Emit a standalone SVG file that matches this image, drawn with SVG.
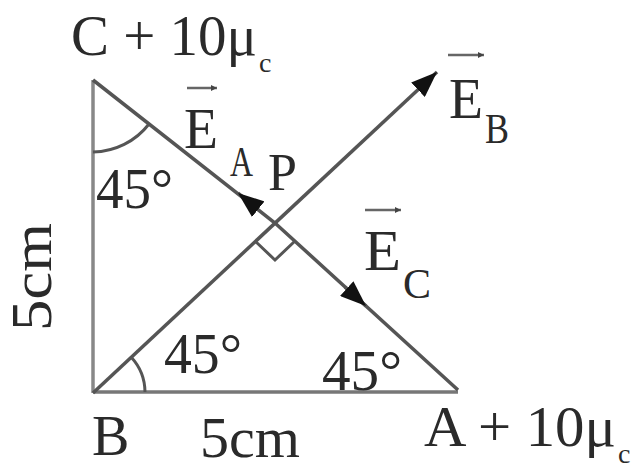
<svg xmlns="http://www.w3.org/2000/svg" width="634" height="470" viewBox="0 0 634 470">
<style>
.t{font-family:"Liberation Serif","Times New Roman",serif;fill:#2a2a2a}
.big{font-size:56px}
.sub{font-size:42px}
.ln{stroke:#555;stroke-width:3.5;fill:none}
.thin{stroke:#555;stroke-width:3;fill:none}
.vb{stroke:#666;stroke-width:2.5;fill:none}
</style>
<defs>
<marker id="ah" viewBox="0 0 10 10" refX="10" refY="5" markerWidth="6" markerHeight="6" markerUnits="userSpaceOnUse" orient="auto">
<path d="M0,0 L10,5 L0,10 z" fill="#444"/>
</marker>
<marker id="big" viewBox="0 0 10 10" refX="10" refY="5" markerWidth="26" markerHeight="20" markerUnits="userSpaceOnUse" orient="auto" preserveAspectRatio="none">
<path d="M0,0 L10,5 L0,10 z" fill="#111"/>
</marker>
</defs>
<rect width="634" height="470" fill="#fff"/>
<g id="connectors">
<line class="ln" x1="93" y1="80" x2="93" y2="393" style="stroke:#888"/>
<line class="ln" x1="93" y1="392" x2="458" y2="392" style="stroke:#777"/>
<polyline class="ln" points="93,80 275,223 458,390"/>
<line class="ln" x1="93" y1="393" x2="437" y2="72" marker-end="url(#big)"/>
<line class="ln" x1="258" y1="209" x2="238" y2="193" marker-end="url(#big)"/>
<line class="ln" x1="345" y1="287" x2="366" y2="306" marker-end="url(#big)"/>
<path class="thin" d="M93,152 A72,72 0 0 0 149,124"/>
<path class="thin" d="M145,392 A52,52 0 0 0 131,357"/>
<polyline class="thin" points="255,241 275,260 295,241"/>
</g>
<g id="node-C"><text class="t big" x="71" y="55" textLength="186" lengthAdjust="spacingAndGlyphs">C + 10μ</text><text class="t" x="259" y="72" style="font-size:28px">c</text></g>
<g id="node-A"><text class="t big" x="424" y="446" textLength="192" lengthAdjust="spacingAndGlyphs">A + 10μ</text><text class="t" x="618" y="463" style="font-size:28px">c</text></g>
<g id="node-B"><text class="t big" x="92" y="455">B</text></g>
<g id="node-P"><text class="t big" x="268" y="190" style="font-size:52px">P</text></g>
<g id="label-5cm-bottom"><text class="t big" x="200" y="457" textLength="100" lengthAdjust="spacingAndGlyphs">5cm</text></g>
<g id="label-5cm-left"><text class="t big" transform="translate(51,331) rotate(-90)" textLength="108" lengthAdjust="spacingAndGlyphs">5cm</text></g>
<g id="angle-C"><text class="t big" x="96" y="208" textLength="77" lengthAdjust="spacingAndGlyphs">45°</text></g>
<g id="angle-B"><text class="t big" x="164" y="373" textLength="78" lengthAdjust="spacingAndGlyphs">45°</text></g>
<g id="angle-A"><text class="t big" x="322" y="390" textLength="80" lengthAdjust="spacingAndGlyphs">45°</text></g>
<g id="label-EA">
<text class="t big" x="184" y="148" style="font-size:56px" textLength="34" lengthAdjust="spacingAndGlyphs">E</text>
<text class="t sub" x="230" y="176" textLength="23" lengthAdjust="spacingAndGlyphs">A</text>
<line class="vb" x1="187" y1="88" x2="217" y2="88" marker-end="url(#ah)"/>
</g>
<g id="label-EB">
<text class="t big" x="449" y="118" style="font-size:56px" textLength="34" lengthAdjust="spacingAndGlyphs">E</text>
<text class="t sub" x="485" y="143" textLength="24" lengthAdjust="spacingAndGlyphs">B</text>
<line class="vb" x1="448" y1="55" x2="484" y2="55" marker-end="url(#ah)"/>
</g>
<g id="label-EC">
<text class="t big" x="364" y="270" style="font-size:56px" textLength="37" lengthAdjust="spacingAndGlyphs">E</text>
<text class="t sub" x="403" y="298" textLength="28" lengthAdjust="spacingAndGlyphs">C</text>
<line class="vb" x1="365" y1="210" x2="401" y2="210" marker-end="url(#ah)"/>
</g>
</svg>
